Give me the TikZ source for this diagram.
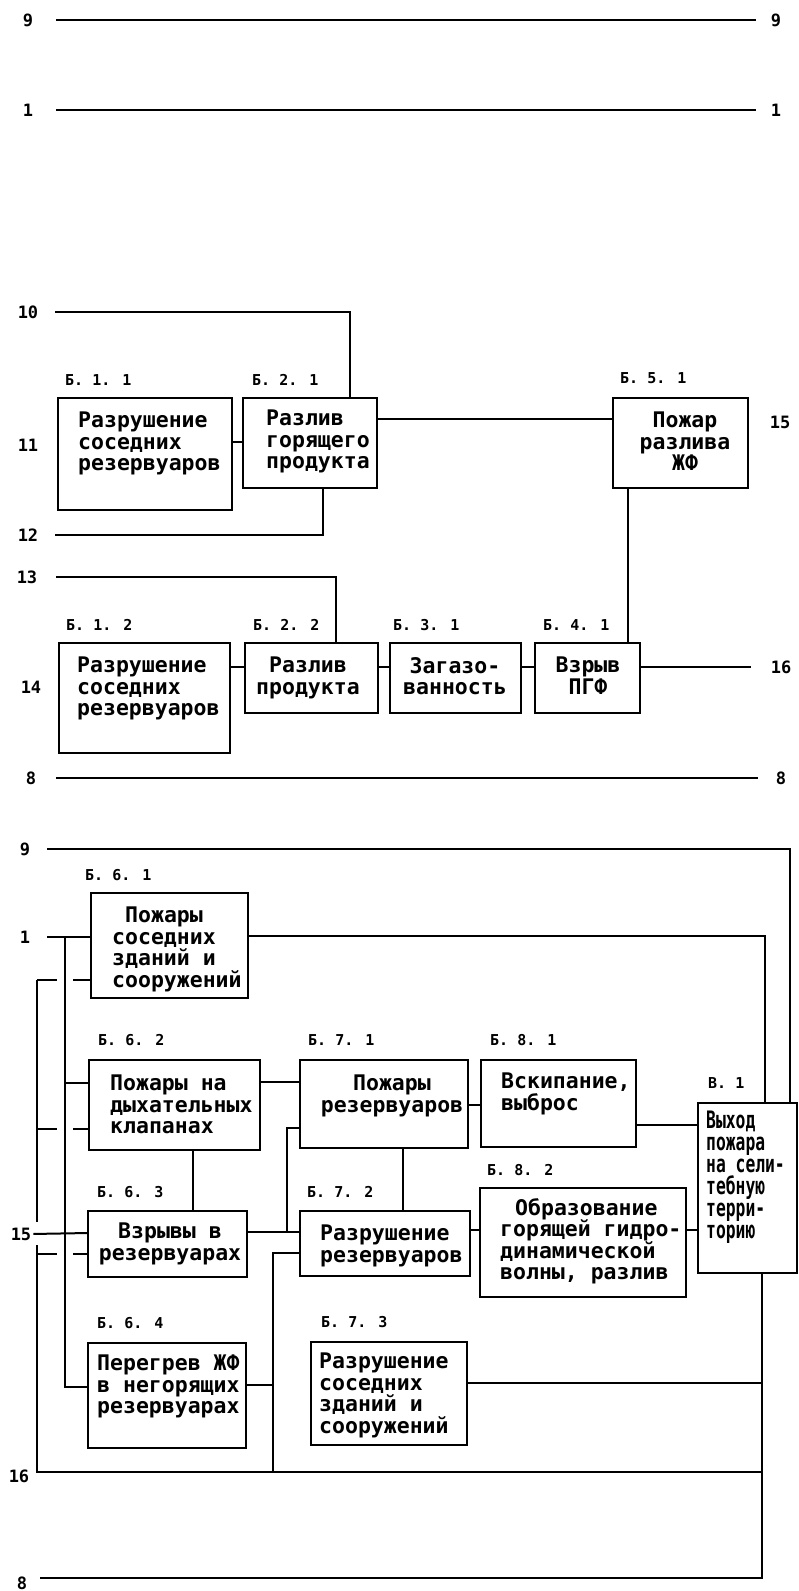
\documentclass[tikz,border=0pt]{standalone}
\usepackage{fontspec}
\newfontfamily\boxfont{DejaVu Sans Mono}
\newfontfamily\condfont[FakeStretch=0.68]{DejaVu Sans Mono}
\usetikzlibrary{calc}
\tikzset{
  wire/.style={line width=2pt},
  blk/.style={draw, line width=2.2pt, rectangle, inner sep=0pt, outer sep=0pt, anchor=north west},
  txt/.style={font=\boxfont\bfseries\fontsize{21.5}{21.5}\selectfont, inner sep=0pt, align=left, anchor=north west},
  ctxt/.style={txt, align=center, anchor=north},
  vtxt/.style={txt, font=\condfont\bfseries\fontsize{24}{22}\selectfont},
  tag/.style={font=\boxfont\bfseries\fontsize{15}{15}\selectfont, inner sep=0pt, anchor=west},
  num/.style={font=\boxfont\bfseries\fontsize{17}{17}\selectfont, inner sep=0pt},
}
\begin{document}
\begin{tikzpicture}[x=1pt, y=-1pt]
\useasboundingbox (0,0) rectangle (799,1591);

% ---------- top lines ----------
\node[num] (n9a) at (28,20) {9};
\node[num] (n9b) at (776,20) {9};
\draw[wire, shorten <=23pt, shorten >=15pt] (n9a.east) -- (n9b.west);
\node[num] (n1a) at (28,110) {1};
\node[num] (n1b) at (776,110) {1};
\draw[wire, shorten <=23pt, shorten >=15pt] (n1a.east) -- (n1b.west);

% ---------- middle section ----------
\node[blk, minimum width=174, minimum height=112] (b11) at (58,398) {};
\node[blk, minimum width=134, minimum height=90] (b21) at (243,398) {};
\node[blk, minimum width=135, minimum height=90] (b51) at (613,398) {};
\node[blk, minimum width=171, minimum height=110] (b12) at (59,643) {};
\node[blk, minimum width=133, minimum height=70] (b22) at (245,643) {};
\node[blk, minimum width=131, minimum height=70] (b31) at (390,643) {};
\node[blk, minimum width=105, minimum height=70] (b41) at (535,643) {};

\node[txt] (t11) at (78,412) {Разрушение\\соседних\\резервуаров};
\node[txt] (t21) at (266,410) {Разлив\\горящего\\продукта};
\node[ctxt] (t51) at (685,412) {Пожар\\разлива\\ЖФ};
\node[txt] (t12) at (77,657) {Разрушение\\соседних\\резервуаров};
\node[ctxt] (t22) at (308,657) {Разлив\\продукта};
\node[ctxt] (t31) at (455,657) {Загазо-\\ванность};
\node[ctxt] (t41) at (588,657) {Взрыв\\ПГФ};

\node[tag] (g11) at (65,380) {Б. 1. 1};
\node[tag] (g21) at (252,380) {Б. 2. 1};
\node[tag] (g51) at (620,378) {Б. 5. 1};
\node[tag] (g12) at (66,625) {Б. 1. 2};
\node[tag] (g22) at (253,625) {Б. 2. 2};
\node[tag] (g31) at (393,625) {Б. 3. 1};
\node[tag] (g41) at (543,625) {Б. 4. 1};

\node[num] (n10) at (28,312) {10};
\node[num] (n11) at (28,445) {11};
\node[num] (n12) at (28,535) {12};
\node[num] (n13) at (27,577) {13};
\node[num] (n14) at (31,687) {14};
\node[num] (n15a) at (780,422) {15};
\node[num] (n16a) at (781,667) {16};
\node[num] (n8a) at (31,778) {8};
\node[num] (n8b) at (781,778) {8};

\draw[wire, shorten <=17pt] (n10.east) -| (b21.north -| 350,0);
\draw[wire] (b11.east |- 0,442) -- (b21.west |- 0,442);
\draw[wire] (b21.east |- 0,419) -- (b51.west |- 0,419);
\draw[wire, shorten >=17pt] (b21.south -| 323,0) |- (n12.east);
\draw[wire] (b51.south -| 628,0) -- (b41.north -| 628,0);
\draw[wire, shorten <=19pt] (n13.east) -| (b22.north -| 336,0);
\draw[wire] (b12.east |- 0,667) -- (b22.west |- 0,667);
\draw[wire] (b22.east |- 0,667) -- (b31.west |- 0,667);
\draw[wire] (b31.east |- 0,667) -- (b41.west |- 0,667);
\draw[wire, shorten >=20pt] (b41.east |- 0,667) -- (n16a.west);
\draw[wire, shorten <=20pt, shorten >=18pt] (n8a.east) -- (n8b.west);

% ---------- bottom section ----------
\node[blk, minimum width=157, minimum height=105] (b61) at (91,893) {};
\node[blk, minimum width=171, minimum height=90] (b62) at (89,1060) {};
\node[blk, minimum width=168, minimum height=88] (b71) at (300,1060) {};
\node[blk, minimum width=155, minimum height=87] (b81) at (481,1060) {};
\node[blk, minimum width=99, minimum height=170] (bv1) at (698,1103) {};
\node[blk, minimum width=159, minimum height=66] (b63) at (88,1211) {};
\node[blk, minimum width=170, minimum height=65] (b72) at (300,1211) {};
\node[blk, minimum width=206, minimum height=109] (b82) at (480,1188) {};
\node[blk, minimum width=158, minimum height=105] (b64) at (88,1343) {};
\node[blk, minimum width=156, minimum height=103] (b73) at (311,1342) {};

\node[txt] (t61) at (112,907) {\hspace*{13pt}Пожары\\соседних\\зданий и\\сооружений};
\node[txt] (t62) at (110,1075) {Пожары на\\дыхательных\\клапанах};
\node[ctxt] (t71) at (392,1075) {Пожары\\резервуаров};
\node[txt] (t81) at (501,1073) {Вскипание,\\выброс};
\node[vtxt] (tv1) at (706,1111) {Выход\\пожара\\на сели-\\тебную\\терри-\\торию};
\node[ctxt] (t63) at (170,1223) {Взрывы в\\резервуарах};
\node[txt] (t72) at (320,1225) {Разрушение\\резервуаров};
\node[txt] (t82) at (500,1198) {\hspace*{15pt}Образование\\горящей гидро-\\динамической\\волны, разлив};
\node[txt] (t64) at (97,1355) {Перегрев ЖФ\\в негорящих\\резервуарах};
\node[txt] (t73) at (319,1353) {Разрушение\\соседних\\зданий и\\сооружений};

\node[tag] (g61) at (85,875) {Б. 6. 1};
\node[tag] (g62) at (98,1040) {Б. 6. 2};
\node[tag] (g71) at (308,1040) {Б. 7. 1};
\node[tag] (g81) at (490,1040) {Б. 8. 1};
\node[tag] (gv1) at (708,1083) {В. 1};
\node[tag] (g63) at (97,1192) {Б. 6. 3};
\node[tag] (g72) at (307,1192) {Б. 7. 2};
\node[tag] (g82) at (487,1170) {Б. 8. 2};
\node[tag] (g64) at (97,1323) {Б. 6. 4};
\node[tag] (g73) at (321,1322) {Б. 7. 3};

\node[num] (n9c) at (25,849) {9};
\node[num] (n1c) at (25,937) {1};
\node[num] (n15c) at (21,1234) {15};
\node[num] (n16c) at (19,1476) {16};
\node[num] (n8c) at (22,1583) {8};

\coordinate (ib) at (65,937);
\coordinate (ob) at (37,980);
\coordinate (rb) at (762,1472);
\coordinate (j1) at (287,1232);
\coordinate (j2) at (273,1472);

% 9 line and 1 line to V.1
\draw[wire, shorten <=17pt] (n9c.east) -| (bv1.north -| 790,0);
\draw[wire, shorten <=17pt] (n1c.east) -- (b61.west |- 0,937);
\draw[wire] (b61.east |- 0,936) -| (bv1.north -| 765,0);

% inner bus
\draw[wire] (ib) |- (b64.west |- 0,1387);
\draw[wire] (ib |- 0,1083) -- (b62.west |- 0,1083);
% 15 line
\draw[wire, shorten <=2pt] (n15c.east) -- (b63.west |- 0,1233);
% outer bus (gap at the 15 line)
\draw[wire] (ob) -- (ob |- 0,1222);
\draw[wire] (ob |- 0,1245) |- (rb);
% stubs from outer bus, hopping over inner bus
\draw[wire] (ob) -- ($(ib |- 0,980)+(-8,0)$);
\draw[wire] ($(ib |- 0,980)+(8,0)$) -- (b61.west |- 0,980);
\draw[wire] (ob |- 0,1129) -- ($(ib |- 0,1129)+(-8,0)$);
\draw[wire] ($(ib |- 0,1129)+(8,0)$) -- (b62.west |- 0,1129);
\draw[wire] (ob |- 0,1254) -- ($(ib |- 0,1254)+(-8,0)$);
\draw[wire] ($(ib |- 0,1254)+(8,0)$) -- (b63.west |- 0,1254);

% block connections
\draw[wire] (b62.east |- 0,1082) -- (b71.west |- 0,1082);
\draw[wire] (b62.south -| 193,0) -- (b63.north -| 193,0);
\draw[wire] (b63.east |- 0,1232) -- (b72.west |- 0,1232);
\draw[wire] (j1) |- (b71.west |- 0,1128);
\draw[wire] (b72.west |- 0,1253) -| (j2);
\draw[wire] (b64.east |- 0,1385) -- (j2 |- 0,1385);
\draw[wire] (b71.south -| 403,0) -- (b72.north -| 403,0);
\draw[wire] (b71.east |- 0,1105) -- (b81.west |- 0,1105);
\draw[wire] (b81.east |- 0,1125) -- (bv1.west |- 0,1125);
\draw[wire] (b72.east |- 0,1230) -- (b82.west |- 0,1230);
\draw[wire] (b82.east |- 0,1230) -- (bv1.west |- 0,1230);
\draw[wire] (b73.east |- 0,1383) -- (rb |- 0,1383);
\draw[wire] (b73.south -| 388,0) -- (b73.south -| 388,0 |- rb);
\draw[wire, shorten >=13pt] (bv1.south -| rb) |- (n8c.east |- 0,1578);
\end{tikzpicture}
\end{document}
